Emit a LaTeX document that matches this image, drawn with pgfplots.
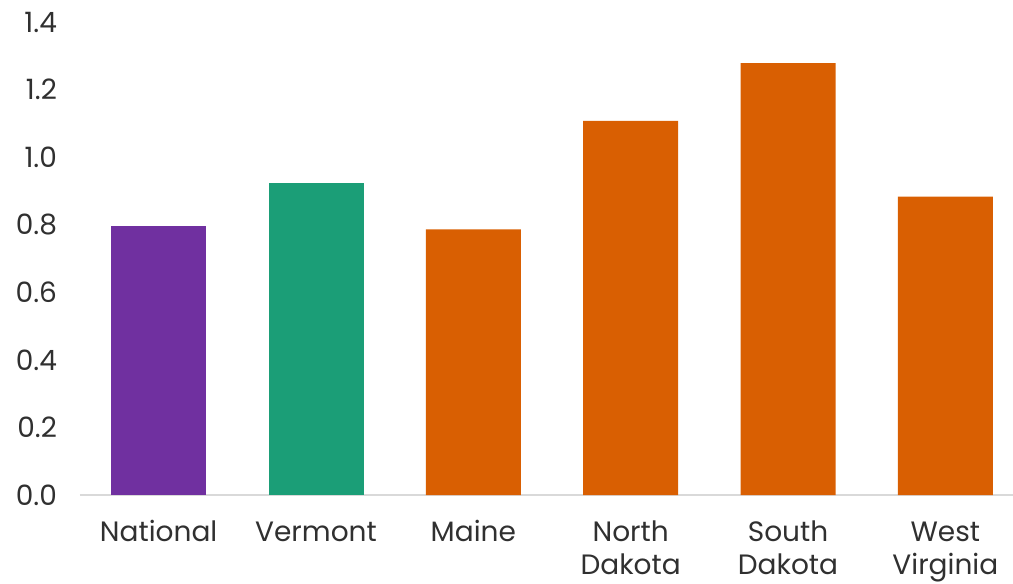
\documentclass[border=0pt]{standalone}
\usepackage{pgfplots}
\pgfplotsset{compat=1.18}
\usepackage{fontspec}
\setmainfont{Poppins}
\definecolor{natpurple}{HTML}{7030A0}
\definecolor{vtgreen}{HTML}{1B9E77}
\definecolor{stateorange}{HTML}{D95F02}
\definecolor{axisgray}{HTML}{D9D9D9}
\definecolor{labelgray}{HTML}{303030}

\begin{document}
\begin{tikzpicture}
  \begin{axis}[
      scale only axis,
      width=466.5pt,
      height=236.5pt,
      xmin=-0.5, xmax=5.43,
      ymin=0, ymax=1.4,
      ytick={0,0.2,...,1.4},
      yticklabel style={/pgf/number format/fixed,
        /pgf/number format/fixed zerofill,
        /pgf/number format/precision=1, xshift=-8pt},
      /pgf/number format/assume math mode=true,
      xtick={0,...,5},
      xticklabels={\strut National, \strut Vermont, \strut Maine,
        \strut North\\Dakota, \strut South\\Dakota, \strut West\\Virginia},
      xticklabel style={align=center, anchor=north, yshift=-4pt},
      tick style={draw=none},
      axis y line*=left,
      y axis line style={draw=none},
      axis x line*=bottom,
      x axis line style={draw=axisgray, line width=1pt, -},
      ticklabel style={font=\fontsize{14}{16.5}\selectfont, text=labelgray},
      ybar, bar shift=0pt, bar width=47.5pt,
      clip=false,
    ]
    \addplot[fill=natpurple, draw=none] coordinates {(0,0.797)};
    \addplot[fill=vtgreen, draw=none] coordinates {(1,0.923)};
    \addplot[fill=stateorange, draw=none] coordinates {
      (2,0.786) (3,1.107) (4,1.278) (5,0.883)
    };
  \end{axis}
  \pgfresetboundingbox
  \path (-40pt,-44.5pt) rectangle (466.5pt,247.5pt);
\end{tikzpicture}
\end{document}
